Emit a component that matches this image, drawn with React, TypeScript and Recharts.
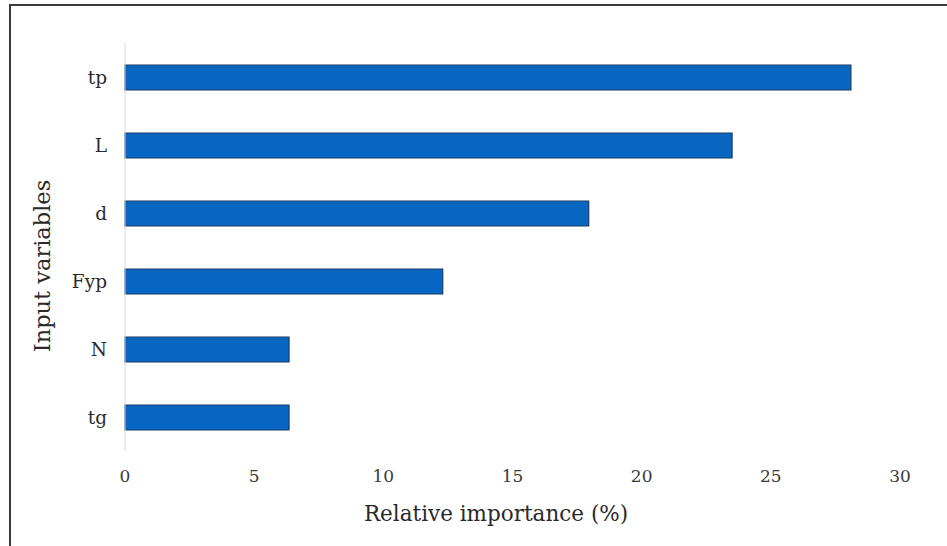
import { Bar, BarChart, XAxis, YAxis, Label } from 'recharts'

const categories = ['tp', 'L', 'd', 'Fyp', 'N', 'tg']
const importance = [28.1, 23.5, 17.95, 12.3, 6.35, 6.35]
const xTicks = [0, 5, 10, 15, 20, 25, 30]

const data = categories.map((name, i) => ({ name, value: importance[i] }))

const FONT = '"DejaVu Serif", "Liberation Serif", serif'

export default function App() {
  return (
    <div style={{ position: 'absolute', left: 0, top: 0, width: 947, height: 546, background: '#fff', fontFamily: FONT }}>
      <div
        style={{
          position: 'absolute',
          left: 9,
          top: 4,
          width: 960,
          height: 560,
          borderLeft: '2px solid #3a3a3a',
          borderTop: '2px solid #3a3a3a',
        }}
      />
      <BarChart
        width={947}
        height={546}
        data={data}
        layout="vertical"
        margin={{ top: 43, right: 47, left: 0, bottom: 0 }}
        barCategoryGap={0}
        style={{ position: 'absolute', left: 0, top: 0, fontFamily: FONT }}
      >
        <XAxis
          type="number"
          domain={[0, 30]}
          ticks={xTicks}
          axisLine={false}
          tickLine={false}
          tickMargin={13}
          height={95}
          tick={{ fill: '#3a3a3a', fontSize: 17, style: { fontFamily: FONT } }}
        >
          <Label
            content={() => (
              <text x={496} y={513} textAnchor="middle" dominantBaseline="central" fill="#2a2a2a" fontSize={21.5} style={{ fontFamily: FONT }}>
                Relative importance (%)
              </text>
            )}
          />
        </XAxis>
        <YAxis
          type="category"
          dataKey="name"
          width={125}
          axisLine={{ stroke: '#d9d9d9' }}
          tickLine={false}
          tickMargin={12}
          tick={{ fill: '#2a2a2a', fontSize: 18.5, style: { fontFamily: FONT } }}
        >
          <Label
            content={() => (
              <text
                x={42}
                y={266}
                transform="rotate(-90 42 266)"
                textAnchor="middle"
                dominantBaseline="central"
                fill="#2a2a2a"
                fontSize={22.5}
                style={{ fontFamily: FONT }}
              >
                Input variables
              </text>
            )}
          />
        </YAxis>
        <Bar dataKey="value" fill="#0767C3" stroke="#1F3A62" strokeWidth={1.2} barSize={25} isAnimationActive={false} />
      </BarChart>
    </div>
  )
}
